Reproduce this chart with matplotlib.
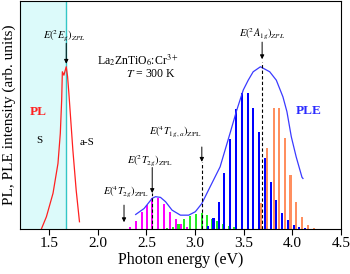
import matplotlib
matplotlib.use("Agg")
import matplotlib.pyplot as plt

plt.rcParams["font.family"] = ["Liberation Serif", "DejaVu Serif"]
plt.rcParams["mathtext.fontset"] = "stix"

# PL emission curve
pl_x = [1.42, 1.472, 1.54, 1.591, 1.615, 1.629, 1.636, 1.652, 1.666, 1.676,
        1.69, 1.703, 1.744, 1.778, 1.812]
pl_y = [0.0, 0.054, 0.157, 0.288, 0.42, 0.566, 0.69, 0.675, 0.697, 0.712,
        0.668, 0.596, 0.347, 0.171, 0.032]

# PLE excitation curve
ple_x = [2.39, 2.476, 2.56, 2.594, 2.645, 2.697, 2.764, 2.85, 2.935, 3.003,
         3.07, 3.156, 3.258, 3.36, 3.428, 3.496, 3.547, 3.598, 3.673, 3.768,
         3.836, 3.904, 3.945, 3.99, 4.04, 4.10, 4.11]
ple_y = [0.064, 0.09, 0.135, 0.142, 0.139, 0.12, 0.083, 0.061, 0.061, 0.076,
         0.112, 0.186, 0.273, 0.42, 0.52, 0.61, 0.653, 0.69, 0.712, 0.69,
         0.653, 0.58, 0.515, 0.405, 0.317, 0.227, 0.222]

# vibronic bars
magenta_x = [2.33, 2.39, 2.45, 2.51, 2.56, 2.62, 2.68, 2.74, 2.80, 2.86, 2.92]
magenta_h = [0.007, 0.036, 0.076, 0.105, 0.137, 0.137, 0.112, 0.076, 0.042, 0.022, 0.007]

green_x = [2.71, 2.77, 2.83, 2.89, 2.95, 3.01, 3.07, 3.12, 3.18, 3.23, 3.29, 3.35, 3.40]
green_h = [0.004, 0.01, 0.022, 0.045, 0.058, 0.068, 0.07, 0.06, 0.046, 0.037, 0.022, 0.012, 0.007]

blue_x = [3.13, 3.19, 3.248, 3.302, 3.36, 3.421, 3.479, 3.54, 3.598, 3.655,
          3.717, 3.777, 3.836, 3.895, 3.955, 4.013, 4.074, 4.13]
blue_h = [0.012, 0.047, 0.12, 0.244, 0.393, 0.525, 0.595, 0.598, 0.529, 0.427,
          0.31, 0.207, 0.128, 0.07, 0.039, 0.018, 0.01, 0.004]

orange_x = [3.683, 3.744, 3.809, 3.863, 3.924, 3.982, 4.04, 4.10, 4.16, 4.22]
orange_h = [0.116, 0.354, 0.529, 0.529, 0.398, 0.237, 0.12, 0.051, 0.018, 0.006]

# zero-phonon line positions
zpl_2eg = 1.676
zpl_4t2g = 2.27
zpl_2t2g = 2.56
zpl_4t1g = 3.07
zpl_2a1g = 3.69

fig = plt.figure(figsize=(3.5, 2.74), dpi=100)
ax = fig.add_axes([0.057, 0.164, 0.917, 0.832])

ax.axvspan(1.2, zpl_2eg, facecolor="#dcfafa", edgecolor="none", zorder=0)
ax.axvline(zpl_2eg, color="#33c6c6", lw=1.0, zorder=1)

bw = 0.021
ax.bar(magenta_x, magenta_h, width=bw, color="#ff00ff", linewidth=0, zorder=2)
ax.bar(green_x, green_h, width=bw, color="#22ee22", linewidth=0, zorder=2)
ax.bar(blue_x, blue_h, width=bw, color="#0000ff", linewidth=0, zorder=2)
ax.bar(orange_x, orange_h, width=bw, color="#ff8f5f", linewidth=0, zorder=2)

ax.plot(pl_x, pl_y, color="#ff2020", lw=0.9, zorder=3)
ax.plot(ple_x, ple_y, color="#3a3aff", lw=0.9, zorder=3)

# dashed guides from the arrows down to the axis
for x0, top in [(zpl_2t2g, 0.158), (zpl_4t1g, 0.295), (zpl_2a1g, 0.735)]:
    ax.plot([x0, x0], [0, top], color="k", lw=0.8, ls=(0, (3, 2)), zorder=4)

arrow = dict(arrowstyle="-|>", color="k", lw=0.7, mutation_scale=6, shrinkA=0, shrinkB=0)
ax.annotate("", xy=(zpl_2eg, 0.725), xytext=(zpl_2eg, 0.815), arrowprops=arrow)
ax.annotate("", xy=(zpl_2a1g, 0.745), xytext=(zpl_2a1g, 0.82), arrowprops=arrow)
ax.annotate("", xy=(zpl_4t1g, 0.295), xytext=(zpl_4t1g, 0.36), arrowprops=arrow)
ax.annotate("", xy=(zpl_2t2g, 0.158), xytext=(zpl_2t2g, 0.27), arrowprops=arrow)
ax.annotate("", xy=(zpl_4t2g, 0.03), xytext=(zpl_4t2g, 0.105), arrowprops=arrow)

fs = 7.5
ax.text(1.655, 0.85, r"$E(^2E_g)_{ZPL}$", fontsize=fs, ha="center", va="center")
ax.text(3.69, 0.86, r"$E(^2A_{1g})_{ZPL}$", fontsize=fs, ha="center", va="center")
ax.text(2.80, 0.43, r"$E(^4T_{1g,a})_\mathrm{ZPL}$", fontsize=fs, ha="center", va="center")
ax.text(2.54, 0.30, r"$E(^2T_{2g})_\mathrm{ZPL}$", fontsize=fs, ha="center", va="center")
ax.text(2.29, 0.164, r"$E(^4T_{2g})_\mathrm{ZPL}$", fontsize=fs, ha="center", va="center")

ax.text(2.41, 0.74, r"La$_2$ZnTiO$_6$:Cr$^{3+}$", fontsize=8.5, ha="center", va="center")
ax.text(2.55, 0.68, r"$T$ = 300 K", fontsize=8.5, ha="center", va="center")

ax.text(1.39, 0.514, "PL", color="#ff2020", fontsize=9.5, fontweight="bold", ha="center", va="center")
ax.text(1.40, 0.39, "S", fontsize=8, ha="center", va="center")
ax.text(1.89, 0.38, "a-S", fontsize=8, ha="center", va="center")
ax.text(4.17, 0.52, "PLE", color="#2a2aff", fontsize=9.5, fontweight="bold", ha="center", va="center")

ax.set_xlim(1.2, 4.5)
ax.set_ylim(0, 1)
ax.set_xticks([1.5, 2.0, 2.5, 3.0, 3.5, 4.0, 4.5])
ax.set_xticklabels(["1.5", "2.0", "2.5", "3.0", "3.5", "4.0", "4.5"])
ax.set_yticks([])
ax.tick_params(axis="x", direction="out", length=4, width=0.8, labelsize=11, pad=2)
for s in ax.spines.values():
    s.set_linewidth(0.8)

ax.set_xlabel("Photon energy (eV)", fontsize=11.5, labelpad=1)
ax.set_ylabel("PL, PLE intensity (arb. units)", fontsize=11, labelpad=3)

fig.savefig("out.png", dpi=100)
